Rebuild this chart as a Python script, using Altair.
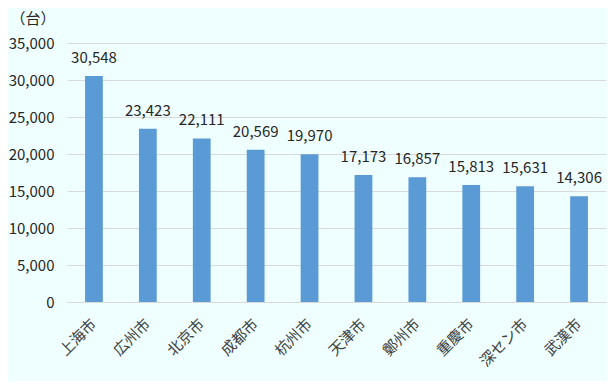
import altair as alt
import pandas as pd

cities = ["上海市", "広州市", "北京市", "成都市", "杭州市", "天津市", "鄭州市", "重慶市", "深セン市", "武漢市"]
values = [30548, 23423, 22111, 20569, 19970, 17173, 16857, 15813, 15631, 14306]
y_ticks = [0, 5000, 10000, 15000, 20000, 25000, 30000, 35000]
unit_label = "（台）"

df = pd.DataFrame({"city": cities, "value": values})
df["label"] = df["value"].map(lambda v: f"{v:,}")

FONT = "Noto Sans CJK JP"
TEXT = "#262626"

x = alt.X("city:N", sort=cities, title=None,
          scale=alt.Scale(paddingInner=0.67, paddingOuter=0.335),
          axis=alt.Axis(labelAngle=-45, labelAlign="right", labelBaseline="middle",
                        labelFontSize=15, labelColor="#404040", labelFont=FONT,
                        labelOverlap=False,
                        ticks=False, domainColor="#D9D9D9", labelPadding=19, grid=False))
y = alt.Y("value:Q", title=None,
          scale=alt.Scale(domain=[0, 35000], nice=False),
          axis=alt.Axis(values=y_ticks, format=",d",
                        labelFontSize=15, labelColor=TEXT, labelFont=FONT,
                        labelOverlap=False,
                        ticks=False, domain=False, gridColor="#D9D9D9", labelPadding=13))

bars = alt.Chart(df).mark_bar(color="#5B9BD5").encode(x=x, y=y)
labels = alt.Chart(df).mark_text(baseline="bottom", dy=-10, fontSize=15, font=FONT, color=TEXT).encode(
    x=x, y=y, text="label:N")
unit = alt.Chart(pd.DataFrame({"t": [unit_label]})).mark_text(
    fontSize=15, font=FONT, color=TEXT, align="center", baseline="middle").encode(
    x=alt.value(-34), y=alt.value(-24), text="t:N")

chart = alt.layer(bars, labels, unit).properties(
    width=539, height=259,
    autosize=alt.AutoSizeParams(type="none"),
    padding={"left": 59, "top": 35, "right": 1, "bottom": 79},
    background="#EFFFFF",
).configure_view(stroke=None)

chart.save("out.html", embed_options={"renderer": "svg", "actions": False})
